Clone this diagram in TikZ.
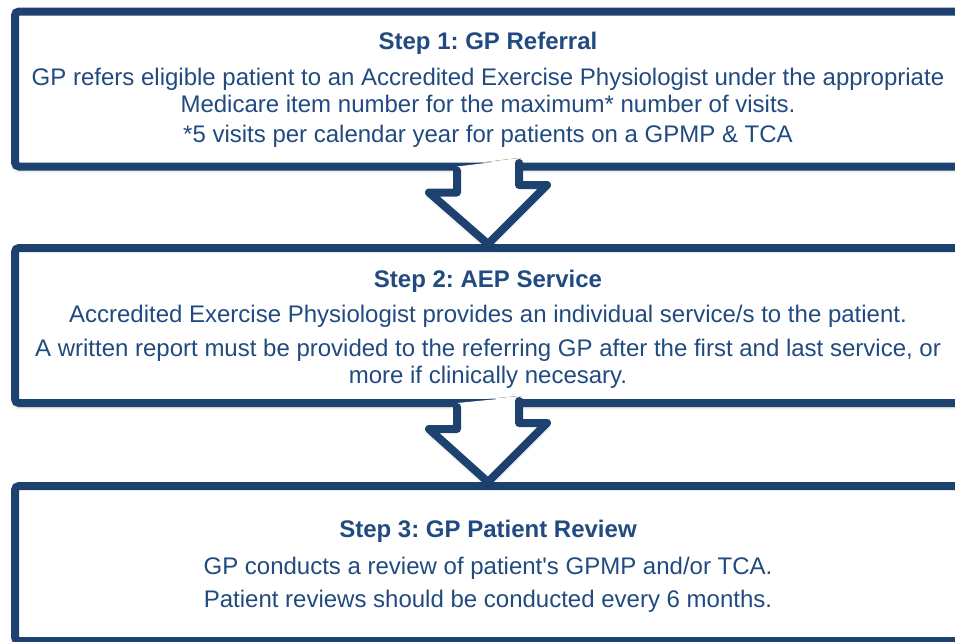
\documentclass[tikz,border=0pt]{standalone}
\usepackage{fontspec}
\setmainfont{Liberation Sans}[Ligatures=TeXOff]
\usetikzlibrary{shadows.blur}
\definecolor{aepblue}{RGB}{30,66,112}
\definecolor{aeptext}{RGB}{33,75,128}
\tikzset{
  stepbox/.style={draw=aepblue, line width=8pt, rounded corners=4pt, fill=white,
    minimum width=946pt, minimum height=155pt, align=center, text=aeptext,
    font=\fontsize{24}{27}\selectfont\frenchspacing,
    blur shadow={shadow xshift=0pt, shadow yshift=-3pt, shadow blur radius=4pt, shadow opacity=35}},
  downarrow/.style={draw=aepblue, line width=8pt, line join=round, line cap=round},
  arrowfill/.style={fill=white, blur shadow={shadow xshift=0pt, shadow yshift=-3pt, shadow blur radius=4pt, shadow opacity=35}}
}
\begin{document}
\begin{tikzpicture}[x=1pt, y=-1pt]
	\useasboundingbox (0,0) rectangle (955,641);
	\clip (0,0) rectangle (955,641);
	% the three steps
	\node[stepbox] (s1) at (488,89) {\rule{0pt}{19.5pt}\textbf{Step 1: GP Referral}\\[9pt]
		GP refers eligible patient to an Accredited Exercise Physiologist under the appropriate\\
		Medicare item number for the maximum* number of visits.\\[3pt]
		*5 visits per calendar year for patients on a GPMP \& TCA};
	\node[stepbox] (s2) at (488,325.5) {\rule{0pt}{25.5pt}\textbf{Step 2: AEP Service}\\[8pt]
		Accredited Exercise Physiologist provides an individual service/s to the patient.\\[7pt]
		A written report must be provided to the referring GP after the first and last service, or\\
		more if clinically necesary.};
	\node[stepbox] (s3) at (488,563.5) {\rule{0pt}{23.5pt}\textbf{Step 3: GP Patient Review}\\[10pt]
		GP conducts a review of patient's GPMP and/or TCA.\\[6pt]
		Patient reviews should be conducted every 6 months.};
	
	% block arrows between the steps
	\foreach \from/\to in {s1/s2, s2/s3}{
		\fill[arrowfill] ([xshift=-31pt,yshift=4pt]\from.south) -- ++(0,26) -- ++(-28,0)
			-- (\to.north) -- ++(59,-59) -- ++(-28,0) -- ++(0,-26) -- cycle;
		\draw[downarrow] ([xshift=-31pt]\from.south) -- ++(0,22) -- ++(-28,0)
			-- (\to.north) -- ++(59,-59) -- ++(-28,0) -- ++(0,-22);
	}
\end{tikzpicture}
\end{document}
